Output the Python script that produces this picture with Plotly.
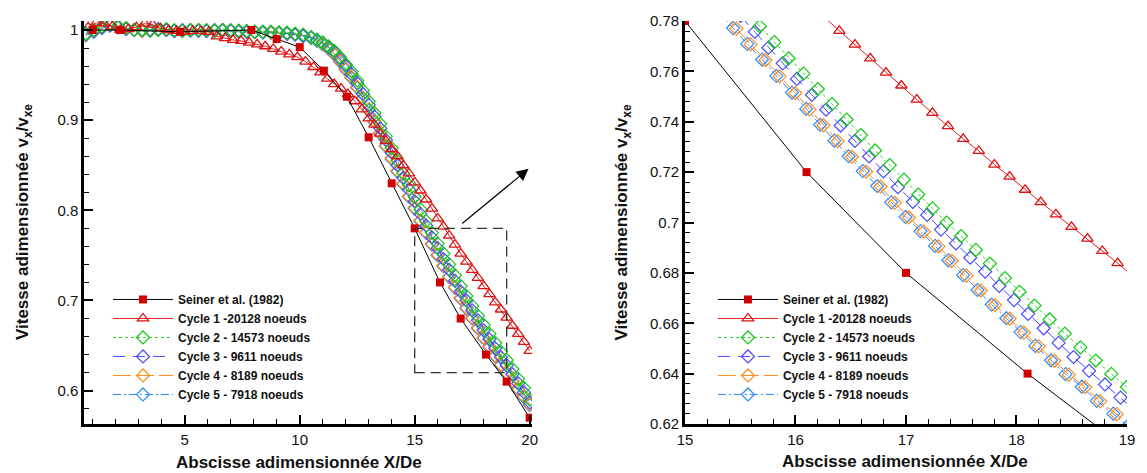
import plotly.graph_objects as go

# ---------------- data : left panel (full domain) ----------------
seiner_x = [1.0, 2.2, 4.8, 7.9, 9.0, 10.0, 11.05, 12.05, 13.0, 14.0, 15.0, 16.1, 17.0, 18.1, 19.0, 20.0]
seiner_y = [1.000, 1.000, 0.998, 1.000, 0.990, 0.981, 0.955, 0.926, 0.881, 0.830, 0.780, 0.720, 0.680, 0.640, 0.610, 0.570]

c1_x = [0.8, 1.15, 1.5, 1.85, 2.2, 2.55, 2.9, 3.25, 3.6, 3.95, 4.3, 4.65, 5.0, 5.35, 5.7, 6.05, 6.4, 6.75,
        7.1, 7.45, 7.8, 8.15, 8.5, 8.85, 9.2, 9.55, 9.9, 10.25, 10.6, 10.9, 11.2, 11.5, 11.8, 12.1, 12.4,
        12.7, 13.0, 13.25, 13.5, 13.75, 14.0, 14.25, 14.5, 14.75, 15.0, 15.25, 15.5, 15.75, 16.0, 16.25,
        16.5, 16.75, 17.0, 17.25, 17.5, 17.75, 18.0, 18.25, 18.5, 18.75, 19.0, 19.25, 19.5, 19.75, 20.0]
c1_y = [1.003, 1.008, 1.007, 1.004, 1.000, 1.001, 1.003, 1.007, 1.006, 1.002, 1.000, 0.999, 0.998, 0.999,
        0.999, 0.998, 0.993, 0.991, 0.989, 0.988, 0.986, 0.984, 0.982, 0.979, 0.976, 0.973, 0.970, 0.965,
        0.959, 0.953, 0.946, 0.940, 0.935, 0.929, 0.921, 0.912, 0.902, 0.895, 0.885, 0.877, 0.868, 0.860,
        0.850, 0.841, 0.831, 0.822, 0.812, 0.802, 0.791, 0.782, 0.772, 0.762, 0.752, 0.743, 0.734, 0.725,
        0.716, 0.707, 0.698, 0.690, 0.681, 0.672, 0.663, 0.654, 0.644]

dia_x = [0.7, 1.05, 1.4, 1.75, 2.1, 2.45, 2.8, 3.15, 3.5, 3.85, 4.2, 4.55, 4.9, 5.25, 5.6, 5.95, 6.3, 6.65,
         7.0, 7.35, 7.7, 8.05, 8.4, 8.75, 9.1, 9.45, 9.8, 10.15, 10.5,
         10.75, 11.0, 11.25, 11.5, 11.75, 12.0, 12.25, 12.5, 12.75, 13.0, 13.25, 13.5, 13.75, 14.0, 14.25,
         14.5, 14.75, 15.0, 15.25, 15.5, 15.75, 16.0, 16.25, 16.5, 16.75, 17.0, 17.25, 17.5, 17.75, 18.0,
         18.25, 18.5, 18.75, 19.0, 19.25, 19.5, 19.75, 20.0]
c2_y = [0.996, 1.000, 1.004, 1.006, 1.004, 1.002, 1.000, 1.000, 0.999, 1.000, 1.001, 1.000, 0.999, 1.000,
        1.000, 1.000, 0.999, 1.000, 1.000, 0.999, 0.999, 0.998, 0.998, 0.998, 0.997, 0.997, 0.996, 0.995, 0.992,
        0.989, 0.986, 0.982, 0.977, 0.970, 0.962, 0.954, 0.944, 0.933, 0.921, 0.908, 0.896, 0.882, 0.869,
        0.855, 0.841, 0.828, 0.815, 0.801, 0.788, 0.775, 0.763, 0.752, 0.740, 0.728, 0.716, 0.705, 0.694,
        0.683, 0.673, 0.663, 0.653, 0.643, 0.634, 0.624, 0.613, 0.603, 0.590]
c3_y = [0.996, 0.999, 1.003, 1.005, 1.003, 1.001, 1.000, 1.000, 1.000, 1.001, 1.000, 0.999, 1.000, 1.000,
        0.999, 0.999, 1.000, 1.000, 0.999, 0.999, 0.998, 0.998, 0.998, 0.998, 0.997, 0.996, 0.995, 0.994, 0.992,
        0.989, 0.986, 0.981, 0.976, 0.968, 0.960, 0.951, 0.941, 0.929, 0.917, 0.904, 0.891, 0.878, 0.864,
        0.850, 0.836, 0.823, 0.810, 0.796, 0.783, 0.770, 0.758, 0.746, 0.734, 0.722, 0.710, 0.700, 0.689,
        0.678, 0.667, 0.657, 0.647, 0.637, 0.628, 0.618, 0.608, 0.598, 0.587]
c4_y = [0.995, 0.999, 1.003, 1.005, 1.004, 1.002, 1.000, 0.999, 1.000, 1.001, 1.000, 0.999, 0.999, 1.000,
        1.000, 0.999, 0.999, 1.000, 0.999, 0.999, 0.998, 0.998, 0.998, 0.997, 0.997, 0.996, 0.995, 0.994, 0.992,
        0.989, 0.985, 0.980, 0.974, 0.966, 0.957, 0.948, 0.937, 0.925, 0.912, 0.899, 0.886, 0.872, 0.858,
        0.844, 0.830, 0.816, 0.803, 0.789, 0.776, 0.763, 0.751, 0.739, 0.727, 0.715, 0.703, 0.692, 0.681,
        0.670, 0.659, 0.649, 0.639, 0.629, 0.620, 0.611, 0.602, 0.594, 0.585]
c5_y = [0.994, 0.998, 1.002, 1.005, 1.004, 1.002, 1.000, 0.999, 1.000, 1.000, 1.000, 0.999, 0.999, 0.999,
        1.000, 0.999, 0.999, 0.999, 0.999, 0.998, 0.998, 0.998, 0.997, 0.997, 0.996, 0.996, 0.995, 0.993, 0.991,
        0.988, 0.984, 0.979, 0.973, 0.965, 0.956, 0.947, 0.936, 0.924, 0.911, 0.898, 0.885, 0.871, 0.857,
        0.843, 0.829, 0.815, 0.802, 0.788, 0.775, 0.762, 0.750, 0.738, 0.726, 0.714, 0.702, 0.691, 0.680,
        0.669, 0.658, 0.648, 0.638, 0.628, 0.619, 0.610, 0.601, 0.593, 0.584]

# ---------------- data : right panel (zoom 15 < X/De < 19) ----------------
z_seiner_x = [15.0, 16.1, 17.0, 18.1, 19.0]
z_seiner_y = [0.78, 0.72, 0.68, 0.64, 0.61]

z_c1_x = [16.257, 16.397, 16.538, 16.677, 16.819, 16.958, 17.098, 17.239, 17.380, 17.518, 17.659, 17.800,
          17.938, 18.078, 18.219, 18.357, 18.498, 18.642, 18.777, 18.915, 19.055]
z_c1_y = [0.7816, 0.7761, 0.7706, 0.7652, 0.7595, 0.7544, 0.7488, 0.7435, 0.7383, 0.7332, 0.7284, 0.7230,
          0.7182, 0.7130, 0.7081, 0.7032, 0.6983, 0.6936, 0.6887, 0.6839, 0.6785]

z_c2_x = [15.548, 15.677, 15.809, 15.938, 16.073, 16.202, 16.331, 16.463, 16.592, 16.720, 16.853, 16.981,
          17.111, 17.240, 17.368, 17.498, 17.633, 17.759, 17.896, 18.028, 18.163, 18.300, 18.438, 18.579,
          18.717, 18.858, 18.999]
z_c2_y = [0.7840, 0.7779, 0.7716, 0.7652, 0.7591, 0.7530, 0.7470, 0.7409, 0.7347, 0.7286, 0.7228, 0.7170,
          0.7111, 0.7056, 0.7000, 0.6946, 0.6891, 0.6837, 0.6779, 0.6725, 0.6670, 0.6615, 0.6559, 0.6504,
          0.6452, 0.6399, 0.6347]

z_c3_x = [15.503, 15.632, 15.755, 15.884, 16.013, 16.148, 16.277, 16.409, 16.538, 16.666, 16.796, 16.927,
          17.062, 17.192, 17.317, 17.452, 17.581, 17.716, 17.844, 17.977, 18.105, 18.246, 18.381, 18.516,
          18.657, 18.801, 18.942, 19.07]
z_c3_y = [0.7820, 0.7757, 0.7694, 0.7632, 0.7570, 0.7507, 0.7448, 0.7385, 0.7324, 0.7262, 0.7203, 0.7140,
          0.7082, 0.7030, 0.6972, 0.6917, 0.6860, 0.6805, 0.6748, 0.6692, 0.6637, 0.6580, 0.6522, 0.6466,
          0.6411, 0.6357, 0.6305, 0.6255]

z_c4_x = [15.336, 15.465, 15.594, 15.728, 15.857, 15.998, 16.127, 16.253, 16.382, 16.511, 16.639, 16.769,
          16.897, 17.026, 17.161, 17.293, 17.413, 17.547, 17.677, 17.806, 17.938, 18.067, 18.201, 18.343,
          18.474, 18.621, 18.756, 18.906, 19.035]
z_c4_y = [0.7834, 0.7770, 0.7707, 0.7645, 0.7580, 0.7514, 0.7449, 0.7386, 0.7323, 0.7261, 0.7202, 0.7143,
          0.7078, 0.7020, 0.6964, 0.6905, 0.6848, 0.6789, 0.6730, 0.6672, 0.6618, 0.6563, 0.6508, 0.6451,
          0.6396, 0.6346, 0.6290, 0.6239, 0.6190]

z_c5_x = [15.306, 15.435, 15.564, 15.698, 15.827, 15.968, 16.097, 16.223, 16.352, 16.481, 16.609, 16.739,
          16.867, 16.996, 17.131, 17.263, 17.383, 17.517, 17.647, 17.776, 17.908, 18.037, 18.171, 18.313,
          18.444, 18.591, 18.726, 18.876, 19.005]
z_c5_y = [0.7836, 0.7772, 0.7709, 0.7647, 0.7582, 0.7516, 0.7451, 0.7388, 0.7325, 0.7263, 0.7204, 0.7145,
          0.7080, 0.7022, 0.6966, 0.6907, 0.6850, 0.6791, 0.6732, 0.6674, 0.6620, 0.6565, 0.6510, 0.6453,
          0.6398, 0.6348, 0.6292, 0.6241, 0.6192]

names = ["Seiner et al. (1982)", "Cycle 1 -20128 noeuds", "Cycle 2 - 14573 noeuds",
         "Cycle 3 - 9611 noeuds", "Cycle 4 - 8189 noeuds", "Cycle 5 - 7918 noeuds"]

# ---------------- styles ----------------
FONT = "Liberation Sans, Arial, Helvetica, sans-serif"
styles = [
    dict(line=dict(color="black", width=1), marker=dict(symbol="square", size=8, color="#d00000")),
    dict(line=dict(color="#e02020", width=1), marker=dict(symbol="triangle-up-open", size=10, color="#dd1111", line=dict(width=1.3))),
    dict(line=dict(color="#22cc22", width=1, dash="dot"), marker=dict(symbol="diamond-open", size=10, color="#11cc11", line=dict(width=1.2))),
    dict(line=dict(color="#4a4aff", width=1, dash="12px,8px"), marker=dict(symbol="diamond-open", size=10, color="#4a4aff", line=dict(width=1.2))),
    dict(line=dict(color="#ff8a1a", width=1, dash="18px,5px"), marker=dict(symbol="diamond-open", size=10, color="#ff8a1a", line=dict(width=1.2))),
    dict(line=dict(color="#2a8cff", width=1, dash="8px,3px,2px,3px"), marker=dict(symbol="diamond-open", size=10, color="#2a8cff", line=dict(width=1.2))),
]

left_sets = [(seiner_x, seiner_y), (c1_x, c1_y), (dia_x, c2_y), (dia_x, c3_y), (dia_x, c4_y), (dia_x, c5_y)]
right_sets = [(z_seiner_x, z_seiner_y), (z_c1_x, z_c1_y), (z_c2_x, z_c2_y), (z_c3_x, z_c3_y),
              (z_c4_x, z_c4_y), (z_c5_x, z_c5_y)]

fig = go.Figure()
draw_order = [5, 4, 3, 2, 1, 0]
for i in draw_order:
    st = styles[i]
    lx, ly = left_sets[i]
    fig.add_trace(go.Scatter(x=lx, y=ly, mode="lines+markers", name=names[i], legendrank=i + 1,
                             line=st["line"], marker=st["marker"], xaxis="x", yaxis="y", legend="legend"))
for i in draw_order:
    st = styles[i]
    rx, ry = right_sets[i]
    fig.add_trace(go.Scatter(x=rx, y=ry, mode="lines+markers", name=names[i], legendrank=i + 1,
                             line=st["line"], marker=st["marker"], xaxis="x2", yaxis="y2", legend="legend2"))

axis_common = dict(showgrid=False, zeroline=False, showline=True, linewidth=2.5, linecolor="black",
                   ticks="inside", ticklen=9, tickwidth=2, tickcolor="black",
                   tickfont=dict(family=FONT, size=15, color="#111"), mirror=False)

fig.update_layout(
    width=1147, height=473,
    margin=dict(l=84, r=13, t=17, b=49),
    paper_bgcolor="white", plot_bgcolor="white",
    font=dict(family=FONT),
    xaxis=dict(domain=[0, 0.4295], range=[0.62, 20.1], tick0=0, dtick=5, anchor="y",
               minor=dict(ticks="inside", ticklen=5, dtick=1, tickwidth=1, tickcolor="black"), **axis_common),
    yaxis=dict(domain=[0, 1], range=[0.563, 1.01], tick0=0, dtick=0.1, anchor="x",
               minor=dict(ticks="inside", ticklen=5, dtick=0.02, tickwidth=1, tickcolor="black"), **axis_common),
    xaxis2=dict(domain=[0.5762, 1], range=[15, 19], tick0=15, dtick=1, anchor="y2",
                minor=dict(ticks="inside", ticklen=5, dtick=0.2, tickwidth=1, tickcolor="black"), **axis_common),
    yaxis2=dict(domain=[0, 1], range=[0.62, 0.78], tick0=0.62, dtick=0.02, anchor="x2",
                minor=dict(ticks="inside", ticklen=5, dtick=0.004, tickwidth=1, tickcolor="black"), **axis_common),
    legend=dict(x=0.023, y=0.345, xanchor="left", yanchor="top", bgcolor="rgba(0,0,0,0)",
                font=dict(family=FONT, size=12, color="#111", weight="bold"), itemwidth=60,
                traceorder="normal"),
    legend2=dict(x=0.603, y=0.345, xanchor="left", yanchor="top", bgcolor="rgba(0,0,0,0)",
                 font=dict(family=FONT, size=12, color="#111", weight="bold"), itemwidth=60,
                 traceorder="normal"),
    showlegend=True,
)

title_font = dict(family=FONT, size=17, color="#111", weight="bold")
ytitle = "Vitesse adimensionnée v<sub>x</sub>/v<sub>xe</sub>"
xtitle = "Abscisse adimensionnée X/De"
fig.add_annotation(text=xtitle, xref="paper", yref="paper", x=0.2057, y=-0.0958, xanchor="center",
                   yanchor="middle", showarrow=False, font=title_font)
fig.add_annotation(text=xtitle, xref="paper", yref="paper", x=0.7867, y=-0.0934, xanchor="center",
                   yanchor="middle", showarrow=False, font=title_font)
fig.add_annotation(text=ytitle, xref="paper", yref="paper", x=-0.058, y=0.5, xanchor="center",
                   yanchor="middle", showarrow=False, textangle=-90, font=title_font)
fig.add_annotation(text=ytitle, xref="paper", yref="paper", x=0.5167, y=0.5, xanchor="center",
                   yanchor="middle", showarrow=False, textangle=-90, font=title_font)

# zoom window and arrow on left panel
fig.add_shape(type="rect", xref="x", yref="y", x0=15, x1=19, y0=0.62, y1=0.78,
              line=dict(color="#333", width=1.3, dash="10px,6px"))
fig.add_annotation(xref="x", yref="y", axref="x", ayref="y", x=19.95, y=0.846, ax=17.0, ay=0.784,
                   text="", showarrow=True, arrowhead=2, arrowsize=2, arrowwidth=1.2, arrowcolor="black")

fig.write_html("out.html", config={"displayModeBar": False},
               post_script="document.body.style.margin='0px';document.body.style.padding='0px';")
